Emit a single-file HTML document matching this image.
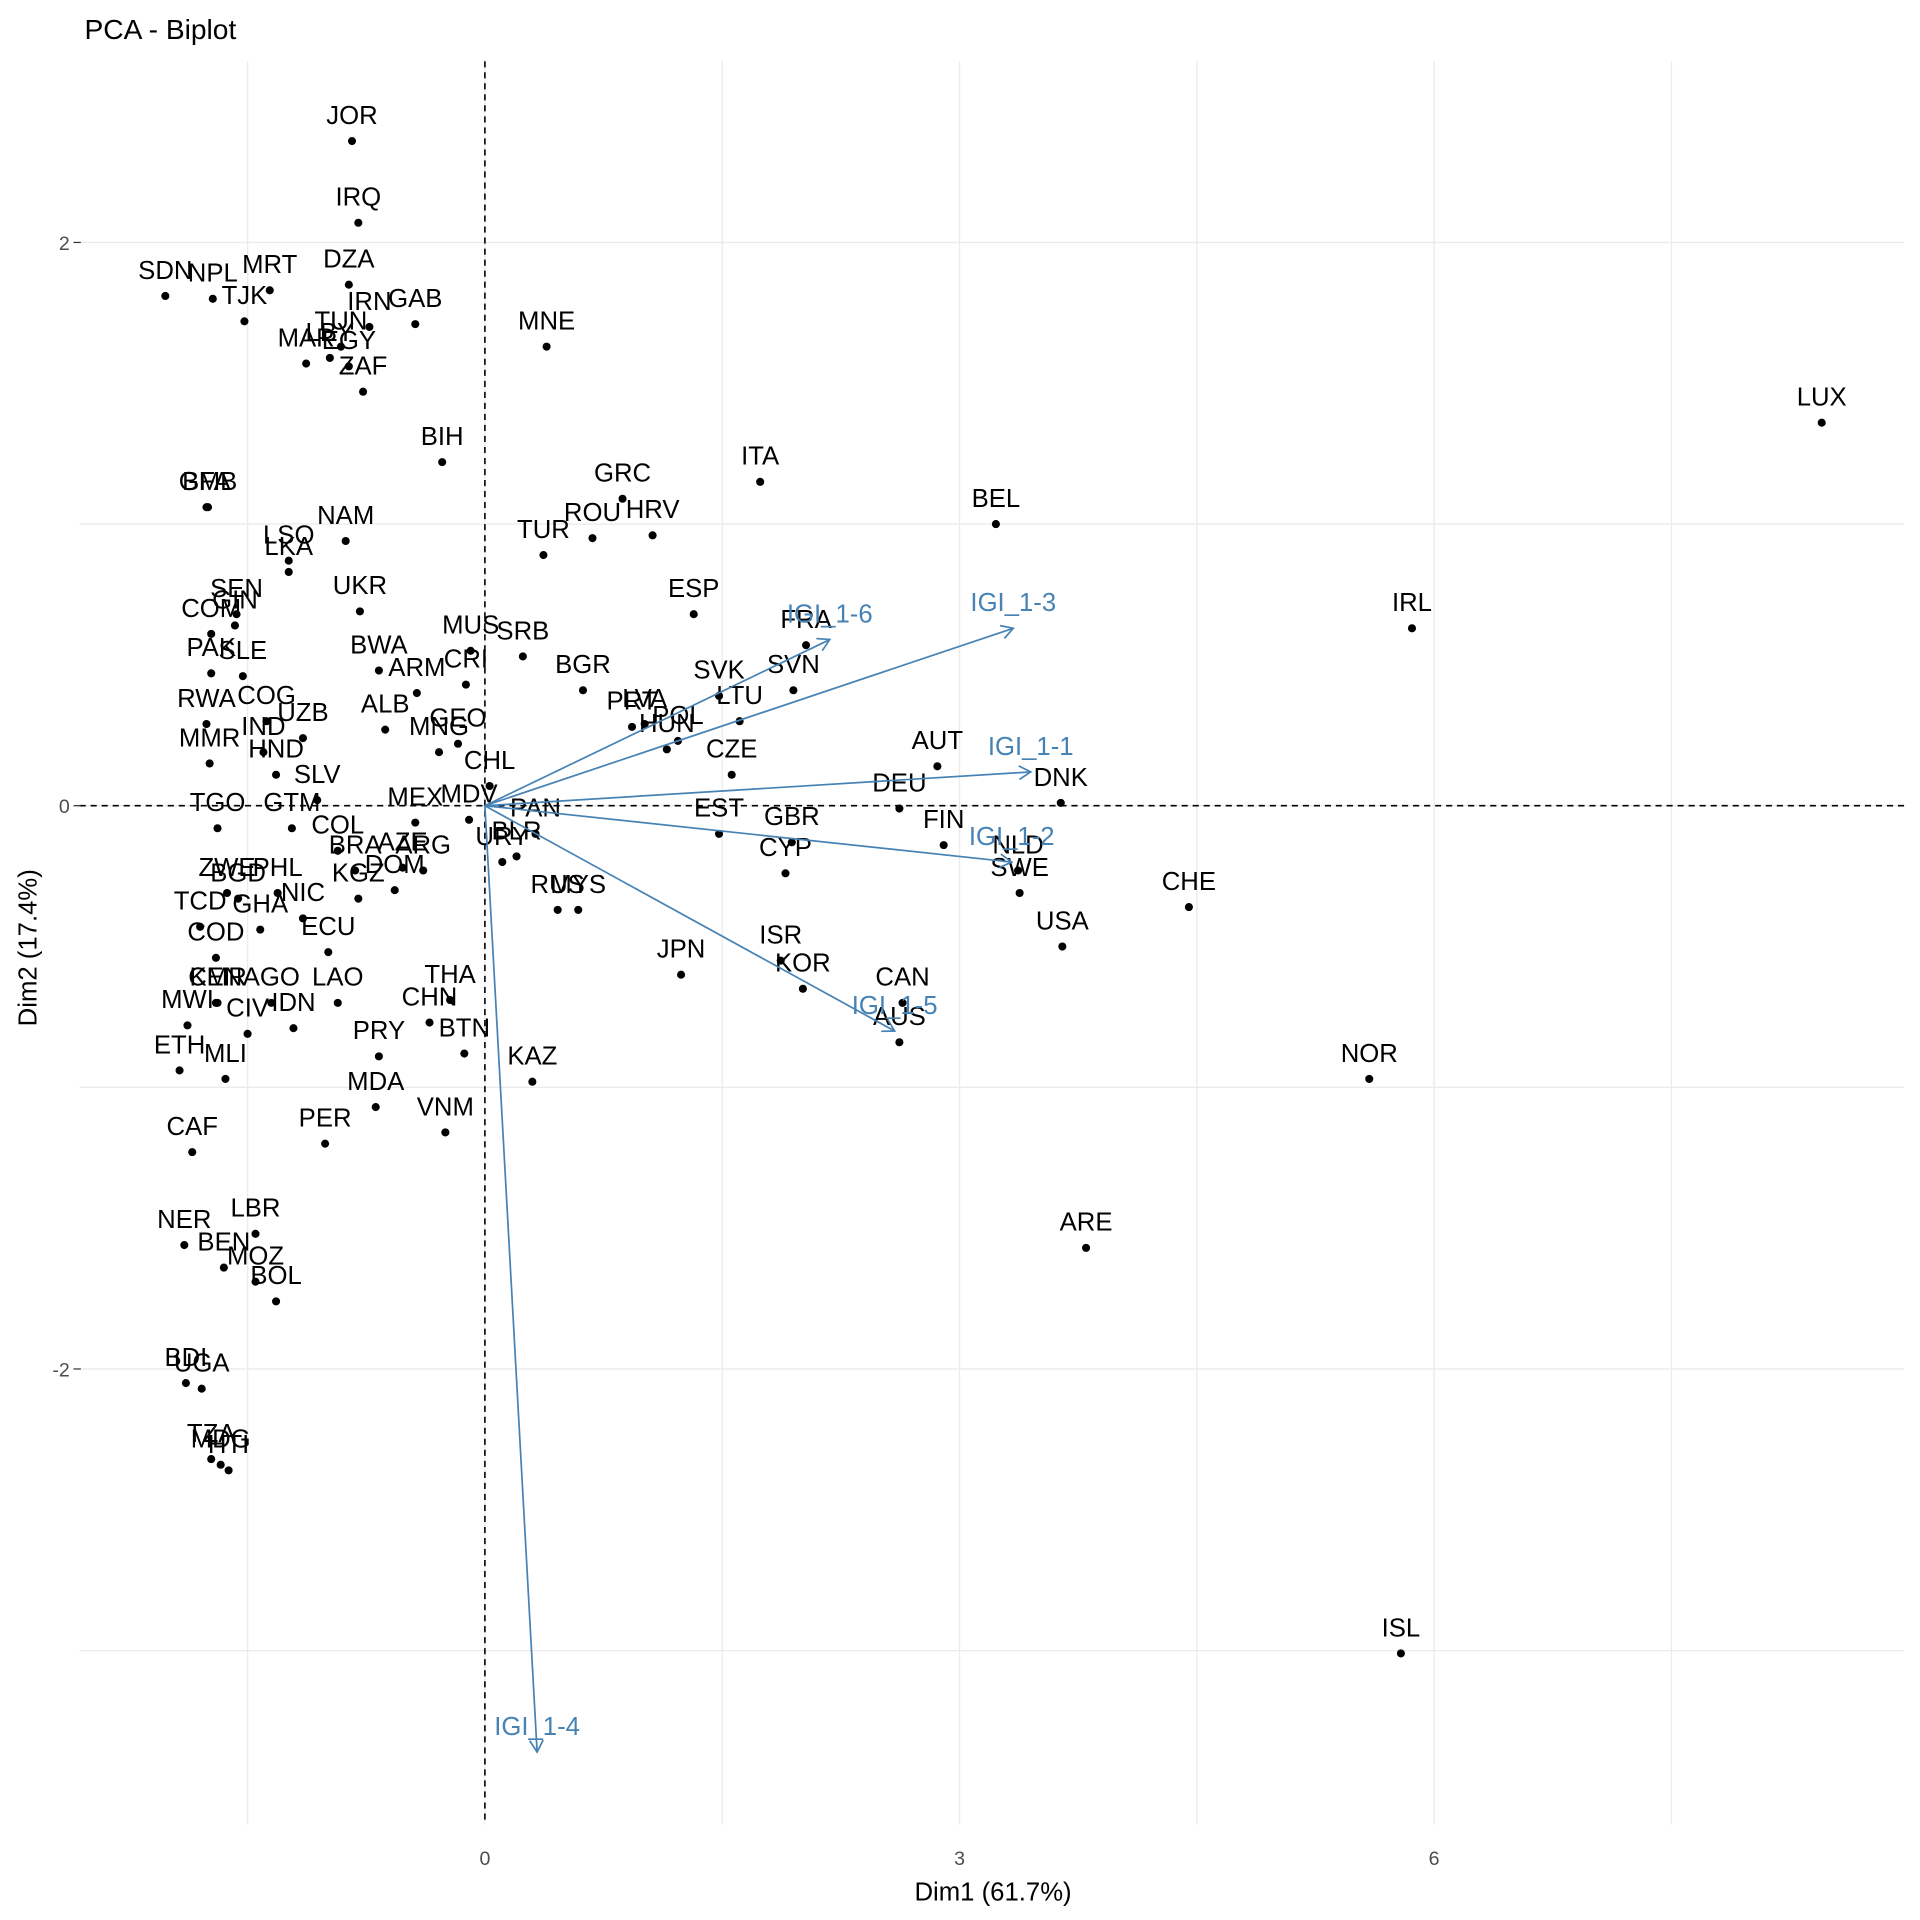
<!DOCTYPE html>
<html><head><meta charset="utf-8"><title>PCA - Biplot</title>
<style>
html,body{margin:0;padding:0;background:#fff;}
svg{display:block;font-family:"Liberation Sans",Arial,sans-serif;}
</style></head>
<body>
<svg id="chart" width="1920" height="1920" viewBox="0 0 1568 1568" xmlns="http://www.w3.org/2000/svg">
<rect width="1568" height="1568" fill="#fff"/>
<text x="69" y="32" font-size="23" fill="#000">PCA - Biplot</text>
<g id="grid"></g>
<g id="axes"></g>
<g id="points"></g>
<g id="arrows"></g>
<text x="811" y="1552" font-size="21" text-anchor="middle" fill="#000">Dim1 (61.7%)</text>
<text transform="translate(30,774) rotate(-90)" font-size="21" text-anchor="middle" fill="#000">Dim2 (17.4%)</text>
</svg>
<script>
const countries = ["JOR","IRQ","SDN","NPL","MRT","DZA","TJK","IRN","GAB","TUN","LBY","MAR","EGY","ZAF","MNE","LUX","BIH","BFA","GMB","ITA","GRC","BEL","ROU","HRV","NAM","LSO","LKA","TUR","SEN","COM","GIN","UKR","ESP","IRL","FRA","MUS","SRB","PAK","SLE","BWA","ARM","CRI","BGR","SVK","SVN","RWA","COG","UZB","ALB","GEO","MNG","LVA","PRT","HUN","POL","LTU","CZE","MMR","IND","HND","SLV","CHL","AUT","DNK","DEU","TGO","GTM","MEX","MDV","PAN","BLR","URY","EST","GBR","CYP","FIN","NLD","SWE","CHE","USA","COL","BRA","AZE","ARG","DOM","KGZ","ZWE","PHL","BGD","NIC","TCD","GHA","ECU","COD","RUS","MYS","ISR","JPN","KOR","CAN","AUS","KEN","CMR","AGO","LAO","THA","CHN","BTN","IDN","CIV","MWI","ETH","MLI","PRY","KAZ","NOR","MDA","VNM","PER","CAF","ARE","NER","LBR","BEN","MOZ","BOL","BDI","UGA","TZA","MDG","HTI","ISL"];
const dim1 = [-0.84,-0.80,-2.02,-1.72,-1.36,-0.86,-1.52,-0.73,-0.44,-0.91,-0.98,-1.13,-0.86,-0.77,0.39,8.45,-0.27,-1.76,-1.75,1.74,0.87,3.23,0.68,1.06,-0.88,-1.24,-1.24,0.37,-1.57,-1.73,-1.58,-0.79,1.32,5.86,2.03,-0.09,0.24,-1.73,-1.53,-0.67,-0.43,-0.12,0.62,1.48,1.95,-1.76,-1.38,-1.15,-0.63,-0.17,-0.29,1.01,0.93,1.15,1.22,1.61,1.56,-1.74,-1.40,-1.32,-1.06,0.03,2.86,3.64,2.62,-1.69,-1.22,-0.44,-0.10,0.32,0.20,0.11,1.48,1.94,1.90,2.90,3.37,3.38,4.45,3.65,-0.93,-0.82,-0.52,-0.39,-0.57,-0.80,-1.63,-1.31,-1.56,-1.15,-1.80,-1.42,-0.99,-1.70,0.46,0.59,1.87,1.24,2.01,2.64,2.62,-1.70,-1.69,-1.35,-0.93,-0.22,-0.35,-0.13,-1.21,-1.50,-1.88,-1.93,-1.64,-0.67,0.30,5.59,-0.69,-0.25,-1.01,-1.85,3.80,-1.90,-1.45,-1.65,-1.45,-1.32,-1.89,-1.79,-1.73,-1.67,-1.62,5.79];
const dim2 = [2.36,2.07,1.81,1.80,1.83,1.85,1.72,1.70,1.71,1.63,1.59,1.57,1.56,1.47,1.63,1.36,1.22,1.06,1.06,1.15,1.09,1.00,0.95,0.96,0.94,0.87,0.83,0.89,0.68,0.61,0.64,0.69,0.68,0.63,0.57,0.55,0.53,0.47,0.46,0.48,0.40,0.43,0.41,0.39,0.41,0.29,0.30,0.24,0.27,0.22,0.19,0.29,0.28,0.20,0.23,0.30,0.11,0.15,0.19,0.11,0.02,0.07,0.14,0.01,-0.01,-0.08,-0.08,-0.06,-0.05,-0.10,-0.18,-0.20,-0.10,-0.13,-0.24,-0.14,-0.23,-0.31,-0.36,-0.50,-0.16,-0.23,-0.22,-0.23,-0.30,-0.33,-0.31,-0.31,-0.33,-0.40,-0.43,-0.44,-0.52,-0.54,-0.37,-0.37,-0.55,-0.60,-0.65,-0.70,-0.84,-0.70,-0.70,-0.70,-0.70,-0.69,-0.77,-0.88,-0.79,-0.81,-0.78,-0.94,-0.97,-0.89,-0.98,-0.97,-1.07,-1.16,-1.20,-1.23,-1.57,-1.56,-1.52,-1.64,-1.69,-1.76,-2.05,-2.07,-2.32,-2.34,-2.36,-3.01];
const varNames = ["IGI_1-3","IGI_1-6","IGI_1-1","IGI_1-2","IGI_1-5","IGI_1-4"];
const varDim1 = [3.34,2.18,3.45,3.33,2.59,0.33];
const varDim2 = [0.63,0.59,0.12,-0.20,-0.80,-3.36];
const xTicks = [0,3,6];
const yTicks = [2,0,-2];
const xGrid = [-1.5,0,1.5,3,4.5,6,7.5];
const yGrid = [2,1,0,-1,-2,-3];

const NS = "http://www.w3.org/2000/svg";
const L = 65, R = 1555, T = 50, B = 1490;
function sx(v){ return 396 + v * 129.2; }
function sy(v){ return 658 - v * 230; }
function mk(tag, attrs, parent){ const e = document.createElementNS(NS, tag); for (const k in attrs) e.setAttribute(k, attrs[k]); parent.appendChild(e); return e; }

const grid = document.getElementById('grid');
xGrid.forEach(v => {
  const l = mk('line', {x1: sx(v), x2: sx(v), y1: T, y2: B, stroke: '#ebebeb', 'stroke-width': 1.1}, grid);
  
  
});
yGrid.forEach(v => {
  const l = mk('line', {x1: L, x2: R, y1: sy(v), y2: sy(v), stroke: '#ebebeb', 'stroke-width': 1.1}, grid);
  
  
});

const axes = document.getElementById('axes');
const vz = mk('line', {x1: sx(0), x2: sx(0), y1: T, y2: B, stroke: '#000', 'stroke-width': 1.3, 'stroke-dasharray': '5,4'}, axes);


const hz = mk('line', {x1: L, x2: R, y1: sy(0), y2: sy(0), stroke: '#000', 'stroke-width': 1.3, 'stroke-dasharray': '5,4'}, axes);


xTicks.forEach(v => {
  const t = mk('text', {x: sx(v), y: 1523, 'font-size': 16, 'text-anchor': 'middle', fill: '#4d4d4d'}, axes);
  t.textContent = String(v);
  
  
});
yTicks.forEach(v => {
  const t = mk('text', {x: 57, y: sy(v) + 6, 'font-size': 16, 'text-anchor': 'end', fill: '#4d4d4d'}, axes);
  t.textContent = String(v);
  
  
  const tk = mk('line', {x1: 60, x2: 66, y1: sy(v), y2: sy(v), stroke: '#333', 'stroke-width': 1}, axes);
  
  
});

const pts = document.getElementById('points');
countries.forEach((c, i) => {
  const px = sx(dim1[i]), py = sy(dim2[i]);
  const p = mk('circle', {cx: px, cy: py, r: 3.3, fill: '#000'}, pts);
  
  
  const t = mk('text', {x: px, y: py - 14, 'font-size': 21, 'text-anchor': 'middle', fill: '#000'}, pts);
  t.textContent = c;
  
  
});

const arr = document.getElementById('arrows');
const col = '#4682B4';
varNames.forEach((n, i) => {
  const x0 = sx(0), y0 = sy(0), x1 = sx(varDim1[i]), y1 = sy(varDim2[i]);
  const l = mk('line', {x1: x0, y1: y0, x2: x1, y2: y1, stroke: col, 'stroke-width': 1.4}, arr);
  
  
  const a = Math.atan2(y1 - y0, x1 - x0), h = 11, s = Math.PI / 6;
  const d = 'M' + (x1 - h * Math.cos(a - s)) + ',' + (y1 - h * Math.sin(a - s)) + ' L' + x1 + ',' + y1 + ' L' + (x1 - h * Math.cos(a + s)) + ',' + (y1 - h * Math.sin(a + s));
  const hd = mk('path', {d: d, fill: 'none', stroke: col, 'stroke-width': 1.4}, arr);
  
  
  const t = mk('text', {x: x1, y: y1 - 14, 'font-size': 21, 'text-anchor': 'middle', fill: col}, arr);
  t.textContent = n;
  
  
});
</script>
</body></html>
